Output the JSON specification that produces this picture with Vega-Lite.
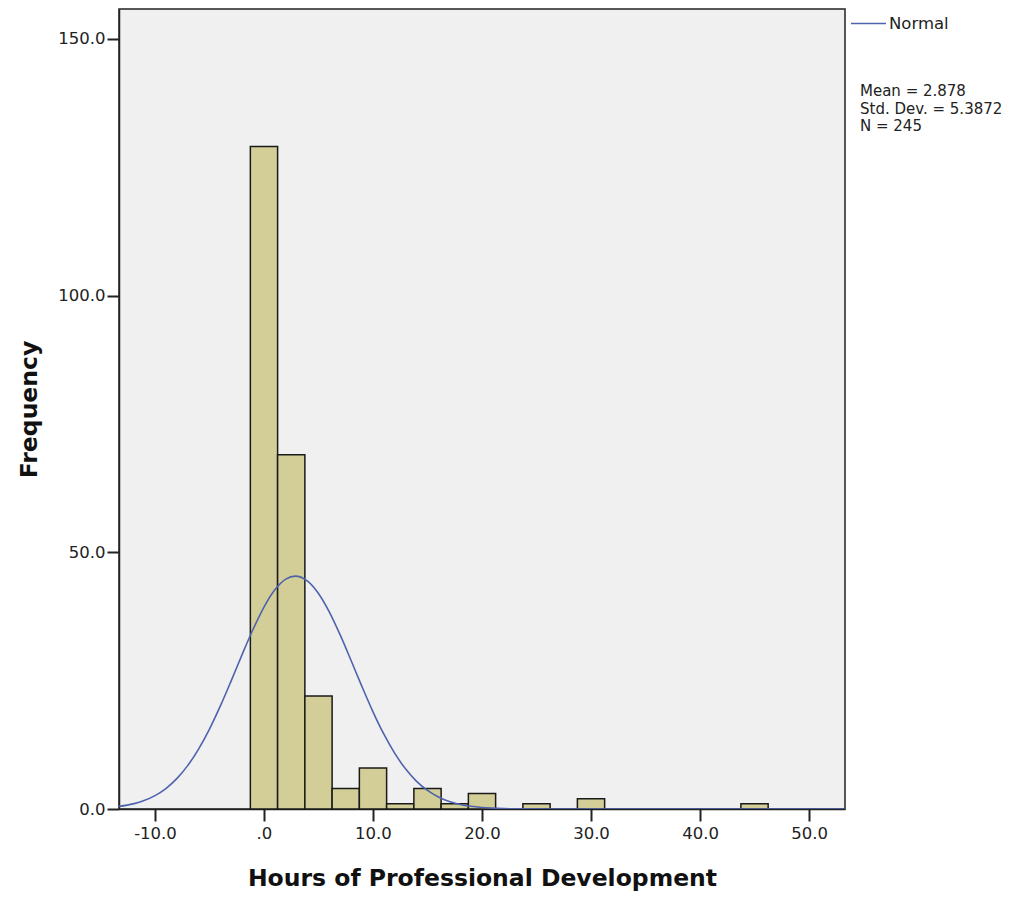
{
  "$schema": "https://vega.github.io/schema/vega-lite/v6.json",
  "width": 726,
  "height": 800,
  "autosize": {"type": "none"},
  "padding": {"left": 119, "top": 9, "right": 184, "bottom": 88},
  "background": "#ffffff",
  "config": {
    "view": {"fill": "#f0f0f0", "stroke": "#222222", "strokeWidth": 1.5},
    "axis": {
      "grid": false,
      "domainColor": "#222222",
      "domainWidth": 1.5,
      "tickColor": "#222222",
      "tickWidth": 2,
      "tickSize": 12,
      "labelFont": "DejaVu Sans",
      "labelFontSize": 16.5,
      "labelColor": "#222222",
      "titleFont": "DejaVu Sans",
      "titleFontWeight": "bold",
      "titleFontSize": 23.5,
      "titleColor": "#111111"
    }
  },
  "datasets": {
    "bins": [
      {"start": -1.25, "end": 1.25, "count": 129},
      {"start": 1.25, "end": 3.75, "count": 69},
      {"start": 3.75, "end": 6.25, "count": 22},
      {"start": 6.25, "end": 8.75, "count": 4},
      {"start": 8.75, "end": 11.25, "count": 8},
      {"start": 11.25, "end": 13.75, "count": 1},
      {"start": 13.75, "end": 16.25, "count": 4},
      {"start": 16.25, "end": 18.75, "count": 1},
      {"start": 18.75, "end": 21.25, "count": 3},
      {"start": 23.75, "end": 26.25, "count": 1},
      {"start": 28.75, "end": 31.25, "count": 2},
      {"start": 43.75, "end": 46.25, "count": 1}
    ],
    "curve": [
      {"hours": -13.3, "freq": 0.50, "series": "Normal"},
      {"hours": -12, "freq": 1.00, "series": "Normal"},
      {"hours": -11, "freq": 1.64, "series": "Normal"},
      {"hours": -10, "freq": 2.61, "series": "Normal"},
      {"hours": -9, "freq": 3.99, "series": "Normal"},
      {"hours": -8, "freq": 5.91, "series": "Normal"},
      {"hours": -7, "freq": 8.45, "series": "Normal"},
      {"hours": -6, "freq": 11.67, "series": "Normal"},
      {"hours": -5, "freq": 15.57, "series": "Normal"},
      {"hours": -4, "freq": 20.08, "series": "Normal"},
      {"hours": -3, "freq": 25.01, "series": "Normal"},
      {"hours": -2, "freq": 30.11, "series": "Normal"},
      {"hours": -1, "freq": 35.00, "series": "Normal"},
      {"hours": 0, "freq": 39.33, "series": "Normal"},
      {"hours": 1, "freq": 42.68, "series": "Normal"},
      {"hours": 2, "freq": 44.76, "series": "Normal"},
      {"hours": 2.878, "freq": 45.36, "series": "Normal"},
      {"hours": 4, "freq": 44.38, "series": "Normal"},
      {"hours": 5, "freq": 41.97, "series": "Normal"},
      {"hours": 6, "freq": 38.35, "series": "Normal"},
      {"hours": 7, "freq": 33.85, "series": "Normal"},
      {"hours": 8, "freq": 28.87, "series": "Normal"},
      {"hours": 9, "freq": 23.78, "series": "Normal"},
      {"hours": 10, "freq": 18.93, "series": "Normal"},
      {"hours": 11, "freq": 14.56, "series": "Normal"},
      {"hours": 12, "freq": 10.82, "series": "Normal"},
      {"hours": 13, "freq": 7.77, "series": "Normal"},
      {"hours": 14, "freq": 5.39, "series": "Normal"},
      {"hours": 15, "freq": 3.61, "series": "Normal"},
      {"hours": 16, "freq": 2.34, "series": "Normal"},
      {"hours": 17, "freq": 1.46, "series": "Normal"},
      {"hours": 18, "freq": 0.88, "series": "Normal"},
      {"hours": 19, "freq": 0.52, "series": "Normal"},
      {"hours": 20, "freq": 0.29, "series": "Normal"},
      {"hours": 22, "freq": 0.08, "series": "Normal"},
      {"hours": 24, "freq": 0.02, "series": "Normal"},
      {"hours": 26, "freq": 0.0, "series": "Normal"},
      {"hours": 30, "freq": 0.0, "series": "Normal"},
      {"hours": 40, "freq": 0.0, "series": "Normal"},
      {"hours": 53.3, "freq": 0.0, "series": "Normal"}
    ]
  },
  "layer": [
    {
      "data": {"name": "bins"},
      "mark": {"type": "bar", "fill": "#d3ce97", "stroke": "#1a1a1a", "strokeWidth": 1.5},
      "encoding": {
        "x": {
          "field": "start",
          "type": "quantitative",
          "scale": {"domain": [-13.3, 53.3], "nice": false, "zero": false},
          "axis": {
            "values": [-10, 0, 10, 20, 30, 40, 50],
            "labelExpr": "datum.value == 0 ? '.0' : datum.value + '.0'",
            "labelPadding": 4,
            "titlePadding": 25
          },
          "title": "Hours of Professional Development"
        },
        "x2": {"field": "end"},
        "y": {
          "field": "count",
          "type": "quantitative",
          "scale": {"domain": [0, 155.8], "nice": false},
          "axis": {
            "values": [0, 50, 100, 150],
            "format": ".1f",
            "labelPadding": 2,
            "titlePadding": 16
          },
          "title": "Frequency"
        },
        "y2": {"datum": 0}
      }
    },
    {
      "data": {"name": "curve"},
      "mark": {"type": "line", "strokeWidth": 1.6, "interpolate": "monotone", "clip": true},
      "encoding": {
        "x": {"field": "hours", "type": "quantitative"},
        "y": {"field": "freq", "type": "quantitative"},
        "color": {
          "field": "series",
          "type": "nominal",
          "scale": {"domain": ["Normal"], "range": ["#4f63ad"]},
          "legend": {
            "orient": "none",
            "legendX": 741,
            "legendY": -4,
            "padding": 0,
            "title": ["Mean = 2.878", "Std. Dev. = 5.3872", "N = 245"],
            "titleOrient": "bottom",
            "titleFont": "DejaVu Sans",
            "titleFontSize": 15,
            "titleFontWeight": "normal",
            "titleLineHeight": 17.5,
            "titlePadding": 52,
            "titleColor": "#222222",
            "symbolType": "stroke",
            "symbolSize": 1225,
            "symbolStrokeWidth": 1.6,
            "symbolOffset": -10,
            "labelFont": "DejaVu Sans",
            "labelFontSize": 16.5,
            "labelColor": "#222222",
            "labelOffset": 2
          }
        }
      }
    }
  ]
}
